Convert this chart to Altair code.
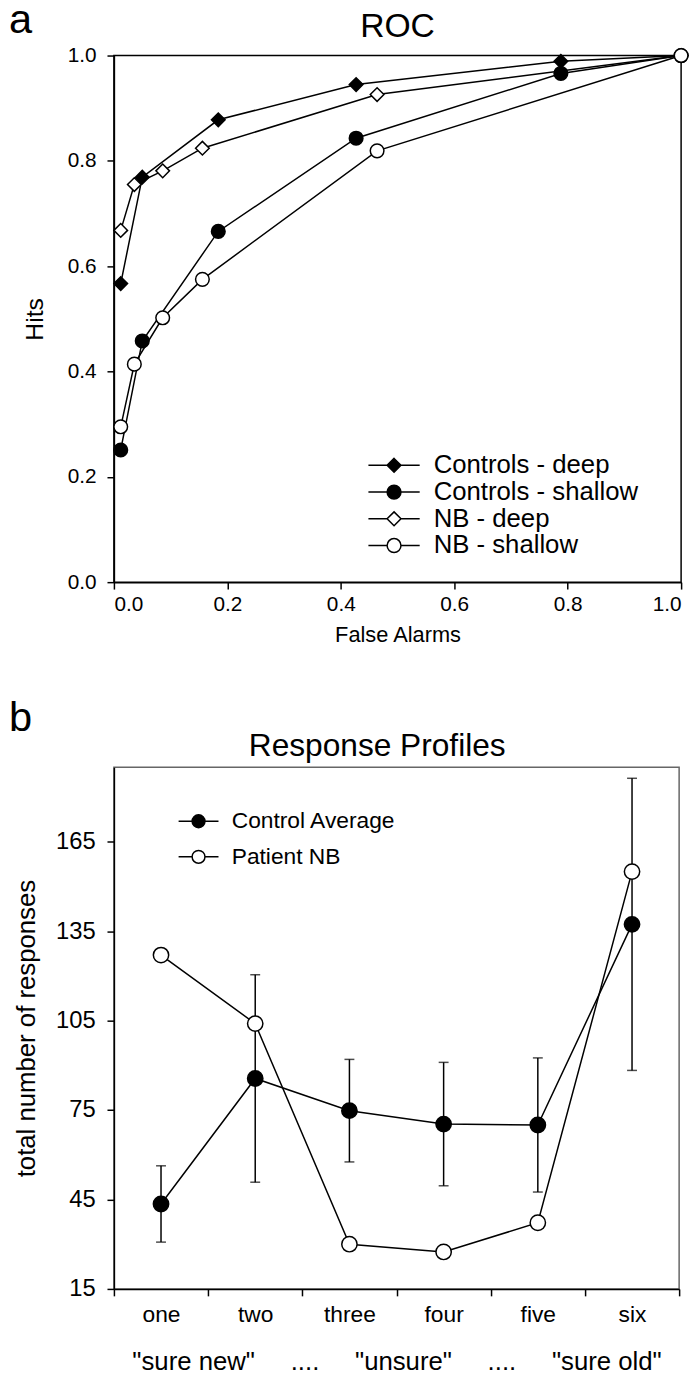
import altair as alt
import pandas as pd

FONT = "Liberation Sans"

# ---------------- panel a: ROC ----------------
roc_series = ["Controls - deep", "Controls - shallow", "NB - deep", "NB - shallow"]
ctrl_deep_fa = [0.012, 0.050, 0.184, 0.427, 0.788, 1.0]
ctrl_deep_hits = [0.567, 0.769, 0.878, 0.945, 0.989, 1.0]
ctrl_shallow_fa = [0.012, 0.050, 0.184, 0.427, 0.788, 1.0]
ctrl_shallow_hits = [0.251, 0.458, 0.666, 0.843, 0.966, 1.0]
nb_deep_fa = [0.012, 0.036, 0.086, 0.156, 0.464, 1.0]
nb_deep_hits = [0.668, 0.755, 0.781, 0.824, 0.926, 1.0]
nb_shallow_fa = [0.012, 0.036, 0.086, 0.156, 0.464, 1.0]
nb_shallow_hits = [0.295, 0.414, 0.502, 0.575, 0.819, 1.0]
roc_ticks = [0.0, 0.2, 0.4, 0.6, 0.8, 1.0]

# ---------------- panel b: response profiles ----------------
ratings = ["one", "two", "three", "four", "five", "six"]
control_avg = [43.5, 85.6, 74.8, 70.3, 70.0, 137.3]
control_err = [12.8, 34.8, 17.2, 20.7, 22.5, 49.0]
patient_nb = [127.0, 104.0, 30.0, 27.4, 37.2, 155.0]
resp_series = ["Control Average", "Patient NB"]
resp_ticks = [15, 45, 75, 105, 135, 165]
NB = "\u00a0" * 5
scale_caption = '"sure new"' + NB + "...." + NB + '"unsure"' + NB + "...." + NB + '"sure old"'
panel_labels = ["a", "b"]
panel_titles = ["ROC", "Response Profiles"]

# ---------------- tables ----------------
rows = []
for name, fa, hits in [
    (roc_series[0], ctrl_deep_fa, ctrl_deep_hits),
    (roc_series[1], ctrl_shallow_fa, ctrl_shallow_hits),
    (roc_series[2], nb_deep_fa, nb_deep_hits),
    (roc_series[3], nb_shallow_fa, nb_shallow_hits),
]:
    for f, h in zip(fa, hits):
        rows.append({"series": name, "fa": f, "hits": h})
df_roc = pd.DataFrame(rows)

df_ctrl = pd.DataFrame({"rating": ratings, "value": control_avg, "err": control_err})
rows = []
for r, c, p in zip(ratings, control_avg, patient_nb):
    rows.append({"rating": r, "series": resp_series[0], "value": c})
    rows.append({"rating": r, "series": resp_series[1], "value": p})
df_resp = pd.DataFrame(rows)

PATH_D = "M-3.7,0L-1,0M1,0L3.7,0M0,-1L1,0L0,1L-1,0Z"
PATH_C = "M-3.7,0L-1,0M1,0L3.7,0M1,0A1,1,0,1,1,-1,0A1,1,0,1,1,1,0Z"
PATH_C2 = "M-3.1,0L-1,0M1,0L3.1,0M1,0A1,1,0,1,1,-1,0A1,1,0,1,1,1,0Z"


def text_layer(txt, size, x, y, align):
    return alt.Chart(pd.DataFrame({"label": [txt]})).mark_text(
        fontSize=size, font=FONT, align=align, baseline="alphabetic", color="black").encode(
        text="label:N", x=alt.value(x), y=alt.value(y))


# ---------------- chart a ----------------
xa = alt.X("fa:Q", scale=alt.Scale(domain=[0, 1], nice=False),
           axis=alt.Axis(values=roc_ticks, format=".1f", title="False Alarms",
                         labelFontSize=21, titleFontSize=22, labelPadding=5, titlePadding=10))
ya = alt.Y("hits:Q", scale=alt.Scale(domain=[0, 1], nice=False),
           axis=alt.Axis(values=roc_ticks, format=".1f", title="Hits",
                         labelFontSize=21, titleFontSize=25, labelPadding=11, titlePadding=20))

base_a = alt.Chart(df_roc)
lines_a = base_a.mark_line(color="black", strokeWidth=1.5).encode(
    x=xa, y=ya, detail="series:N", order="fa:Q")
points_a = base_a.mark_point(size=190, stroke="black", strokeWidth=1.5, opacity=1, fillOpacity=1).encode(
    x=xa, y=ya,
    shape=alt.Shape("series:N", scale=alt.Scale(domain=roc_series, range=["diamond", "circle", "diamond", "circle"]), legend=None),
    fill=alt.Fill("series:N", scale=alt.Scale(domain=roc_series, range=["black", "black", "white", "white"]), legend=None),
)
leg_a = alt.Legend(title=None, orient="none", legendX=270, legendY=401, labelFontSize=26, labelFont=FONT,
                   labelColor="black", symbolSize=196, symbolStrokeWidth=1.5, symbolStrokeColor="black",
                   symbolOpacity=1, labelOffset=27, rowPadding=1, padding=0, labelLimit=0)
legend_a = base_a.transform_filter("false").mark_point(strokeWidth=1.5, opacity=1, fillOpacity=1).encode(
    x=xa, y=ya,
    shape=alt.Shape("series:N", scale=alt.Scale(domain=roc_series, range=[PATH_D, PATH_C, PATH_D, PATH_C]), legend=leg_a),
    fill=alt.Fill("series:N", scale=alt.Scale(domain=roc_series, range=["black", "black", "white", "white"]), legend=leg_a),
    stroke=alt.Stroke("series:N", scale=alt.Scale(domain=roc_series, range=["black", "black", "black", "black"]), legend=leg_a),
)
label_a = text_layer(panel_labels[0], 42, -106, -23, "left")
title_a = text_layer(panel_titles[0], 34, 286.5, -19, "center")

chart_a = alt.layer(lines_a, points_a, legend_a, label_a, title_a).resolve_scale(
    shape="independent", fill="independent", stroke="independent").properties(
    width=573, height=532,
    view=alt.ViewBackground(stroke="black", strokeWidth=1.5),
)

# ---------------- chart b ----------------
xb = alt.X("rating:N", sort=ratings, bandPosition=0.5,
           scale=alt.Scale(type="band", domain=ratings, paddingInner=0, paddingOuter=0),
           axis=alt.Axis(title=scale_caption, tickBand="extent", labelAngle=0, labelFontSize=23,
                         titleFontSize=26, labelPadding=8, titlePadding=22))
yb_axis = alt.Axis(values=resp_ticks, title="total number of responses", labelFontSize=24,
                   titleFontSize=26, labelPadding=12, titlePadding=16)
yb_scale = alt.Scale(domain=[15, 190], nice=False)

err_rule = alt.Chart(df_ctrl).transform_calculate(
    lo="datum.value - datum.err", hi="datum.value + datum.err").mark_rule(
    color="black", strokeWidth=1.5).encode(
    x=xb, y=alt.Y("lo:Q", scale=yb_scale, axis=yb_axis), y2="hi:Q")
err_caps = alt.Chart(df_ctrl).transform_calculate(
    lo="datum.value - datum.err", hi="datum.value + datum.err").transform_fold(
    ["lo", "hi"], as_=["end", "v"]).mark_tick(color="black", size=10, thickness=1.5).encode(
    x=xb, y=alt.Y("v:Q", scale=yb_scale, axis=yb_axis))

base_b = alt.Chart(df_resp)
yb = alt.Y("value:Q", scale=yb_scale, axis=yb_axis)
lines_b = base_b.mark_line(color="black", strokeWidth=1.5).encode(x=xb, y=yb, detail="series:N")
points_b = base_b.mark_point(size=240, shape="circle", stroke="black", strokeWidth=1.5, opacity=1, fillOpacity=1).encode(
    x=xb, y=yb,
    fill=alt.Fill("series:N", scale=alt.Scale(domain=resp_series, range=["black", "white"]), legend=None),
)
leg_b = alt.Legend(title=None, orient="none", legendX=74, legendY=43, labelFontSize=23, labelFont=FONT,
                   labelColor="black", symbolSize=169, symbolStrokeWidth=1.5, symbolStrokeColor="black",
                   symbolOpacity=1, labelOffset=22, rowPadding=12, padding=0, labelLimit=0)
legend_b = base_b.transform_filter("false").mark_point(strokeWidth=1.5, opacity=1, fillOpacity=1).encode(
    x=xb, y=yb,
    shape=alt.Shape("series:N", scale=alt.Scale(domain=resp_series, range=[PATH_C2, PATH_C2]), legend=leg_b),
    fill=alt.Fill("series:N", scale=alt.Scale(domain=resp_series, range=["black", "white"]), legend=leg_b),
    stroke=alt.Stroke("series:N", scale=alt.Scale(domain=resp_series, range=["black", "black"]), legend=leg_b),
)
label_b = text_layer(panel_labels[1], 42, -106, -37, "left")
title_b = text_layer(panel_titles[1], 32, 266, -11, "center")

chart_b = alt.layer(lines_b, err_rule, err_caps, points_b, legend_b, label_b, title_b).resolve_scale(
    shape="independent", fill="independent", stroke="independent").properties(
    width=571, height=527,
    view=alt.ViewBackground(stroke="#666666", strokeWidth=1.5),
)

chart = alt.vconcat(chart_a, chart_b, spacing=50).properties(
    padding={"left": 0, "top": -17, "right": 0, "bottom": 0}
).configure_axis(
    labelFont=FONT, titleFont=FONT, labelColor="black", titleColor="black",
    titleFontWeight="normal", domainColor="black", tickColor="black",
    domainWidth=1.5, tickWidth=1.5, tickSize=7, grid=False,
).configure_text(font=FONT)

chart.save("out.html", embed_options={"renderer": "svg", "actions": False})
